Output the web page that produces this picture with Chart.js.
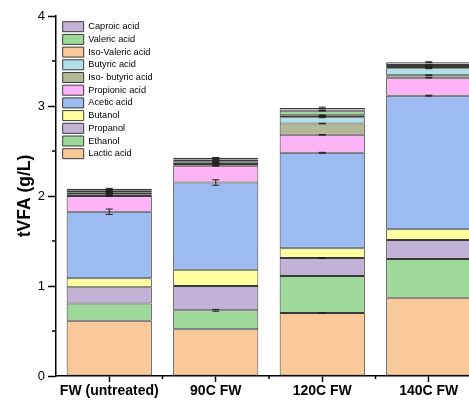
<!DOCTYPE html>
<html>
<head>
<meta charset="utf-8">
<script src="https://cdn.jsdelivr.net/npm/chart.js@4"></script>
<style>
  html, body { margin: 0; padding: 0; background: #fff; overflow: hidden; }
  .wrap { width: 469px; height: 403px; overflow: hidden; }
</style>
</head>
<body>
<div class="wrap"><canvas id="chart" width="482" height="403"></canvas></div>
<script>
const categories = ['FW (untreated)', '90C FW', '120C FW', '140C FW']

const series_names = ['Lactic acid', 'Ethanol', 'Propanol', 'Butanol', 'Acetic acid', 'Propionic acid',
  'Iso- butyric acid', 'Butyric acid', 'Iso-Valeric acid', 'Valeric acid', 'Caproic acid']

const lactic = [0.615, 0.52, 0.70, 0.87]
const ethanol = [0.19, 0.21, 0.41, 0.43]
const propanol = [0.18, 0.27, 0.20, 0.21]
const butanol = [0.10, 0.18, 0.11, 0.12]
const acetic = [0.74, 0.97, 1.06, 1.485]
const propionic = [0.175, 0.185, 0.20, 0.20]
const iso_butyric = [0.02, 0.02, 0.125, 0.027]
const butyric = [0.015, 0.02, 0.07, 0.078]
const iso_valeric = [0.01, 0.01, 0.022, 0.014]
const valeric = [0.02, 0.02, 0.05, 0.022]
const caproic = [0.015, 0.02, 0.03, 0.03]

// error bars (g/L), same order as the series
const lactic_err = [0, 0, 0.003, 0]
const ethanol_err = [0, 0.01, 0, 0]
const propanol_err = [0, 0, 0.005, 0]
const butanol_err = [0, 0, 0, 0]
const acetic_err = [0.03, 0.03, 0.005, 0.005]
const propionic_err = [0.005, 0.003, 0.003, 0.003]
const iso_butyric_err = [0.005, 0.003, 0.003, 0.003]
const butyric_err = [0.005, 0.003, 0.005, 0.005]
const iso_valeric_err = [0.005, 0.003, 0.003, 0.003]
const valeric_err = [0.005, 0.003, 0.003, 0.003]
const caproic_err = [0.005, 0.003, 0.01, 0.005]

const y_ticks = [0, 1, 2, 3, 4]

const values = [lactic, ethanol, propanol, butanol, acetic, propionic, iso_butyric, butyric, iso_valeric, valeric, caproic]
const errors = [lactic_err, ethanol_err, propanol_err, butanol_err, acetic_err, propionic_err,
  iso_butyric_err, butyric_err, iso_valeric_err, valeric_err, caproic_err]
const colors = ['#f9c99a', '#9fd89b', '#c2b3d6', '#ffffa0', '#9bbbf1', '#fdb4f6',
  '#b3b996', '#b0e1e7', '#f9c99a', '#9fd89b', '#c2b3d6']

const FONT = "'Liberation Sans', Arial, sans-serif"

const datasets = series_names.map((name, i) => ({
  label: name,
  data: values[i],
  backgroundColor: colors[i],
  borderColor: '#3a3a3a',
  borderWidth: 1,
  borderSkipped: false,
  barPercentage: 0.8,
  categoryPercentage: 1,
}))

// move the legend a bit inside the plot, like the original
const legendPos = {
  id: 'legendPos',
  afterLayout(chart) {
    const lg = chart.legend
    const a = chart.chartArea
    const w = lg.width, h = lg.height
    lg.left = a.left + 4
    lg.top = a.top + 3
    lg.right = lg.left + w
    lg.bottom = lg.top + h
  }
}

// error bars on top of each stacked segment + minor ticks
const extraDraw = {
  id: 'extraDraw',
  afterDatasetsDraw(chart) {
    const ctx = chart.ctx
    const x = chart.scales.x
    const y = chart.scales.y
    ctx.save()
    ctx.strokeStyle = '#222'
    ctx.lineWidth = 1
    for (let j = 0; j < categories.length; j++) {
      let sum = 0
      const cx = x.getPixelForValue(j)
      for (let i = 0; i < values.length; i++) {
        sum += values[i][j]
        const e = errors[i][j]
        if (!e) continue
        const y1 = y.getPixelForValue(sum + e)
        const y2 = y.getPixelForValue(sum - e)
        ctx.beginPath()
        ctx.moveTo(cx, y1); ctx.lineTo(cx, y2)
        ctx.moveTo(cx - 3.5, y1); ctx.lineTo(cx + 3.5, y1)
        ctx.moveTo(cx - 3.5, y2); ctx.lineTo(cx + 3.5, y2)
        ctx.stroke()
      }
    }
    ctx.strokeStyle = '#000'
    ctx.lineWidth = 1.5
    // minor x ticks between categories
    const step = x.getPixelForValue(1) - x.getPixelForValue(0)
    for (let j = 0; j < categories.length; j++) {
      const bx = x.getPixelForValue(j) + step / 2
      ctx.beginPath()
      ctx.moveTo(bx, x.top); ctx.lineTo(bx, x.top + 3)
      ctx.stroke()
    }
    // minor y ticks at the halves
    for (let k = 0; k < y_ticks.length - 1; k++) {
      const py = Math.round(y.getPixelForValue(y_ticks[k] + 0.5))
      ctx.beginPath()
      ctx.moveTo(y.right, py); ctx.lineTo(y.right - 4, py)
      ctx.stroke()
    }
    ctx.restore()
  }
}

new Chart(document.getElementById('chart'), {
  type: 'bar',
  data: { labels: categories, datasets: datasets },
  plugins: [legendPos, extraDraw],
  options: {
    responsive: false,
    animation: false,
    devicePixelRatio: 1,
    layout: { padding: { top: 16, right: 0, left: 0, bottom: 0 } },
    plugins: {
      tooltip: { enabled: false },
      legend: {
        position: 'chartArea',
        align: 'start',
        reverse: true,
        labels: {
          boxWidth: 21,
          boxHeight: 10,
          padding: 2.7,
          color: '#000',
          font: { family: FONT, size: 9.2 },
        }
      }
    },
    scales: {
      x: {
        stacked: true,
        offset: true,
        border: { color: '#000', width: 1.5 },
        grid: { display: true, drawOnChartArea: false, offset: false, tickLength: 6, color: '#000', tickWidth: 1.5 },
        ticks: { color: '#000', font: { family: FONT, size: 14, weight: 'bold' }, padding: 1, maxRotation: 0 },
        afterFit(scale) { scale.height = 27 }
      },
      y: {
        stacked: true,
        min: 0,
        max: 4,
        border: { color: '#000', width: 1.5 },
        grid: { display: true, drawOnChartArea: false, tickLength: 8, color: '#000', tickWidth: 1.5 },
        ticks: {
          stepSize: 1,
          color: '#000',
          font: { family: FONT, size: 13 },
          padding: 3,
          callback: v => y_ticks.includes(v) ? String(v) : ''
        },
        title: {
          display: true,
          text: 'tVFA (g/L)',
          color: '#000',
          font: { family: FONT, size: 17.5, weight: 'bold' },
          padding: { top: 15, bottom: 4 }
        },
        afterFit(scale) { scale.width = 56 }
      }
    }
  }
})
</script>
</body>
</html>
